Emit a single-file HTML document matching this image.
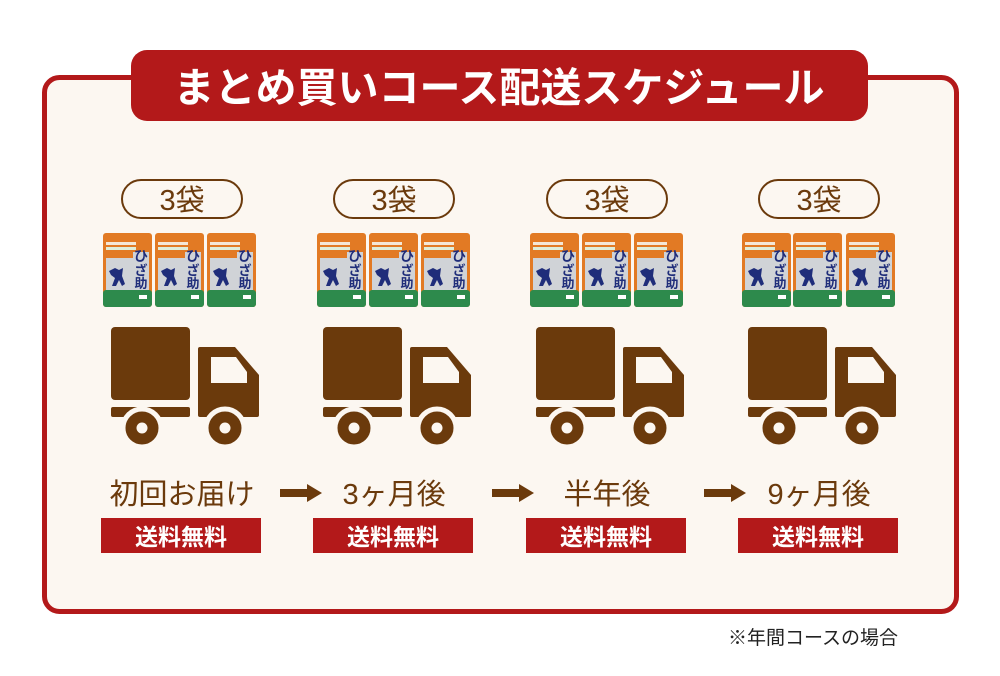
<!DOCTYPE html>
<html><head><meta charset="utf-8"><style>
html,body{margin:0;padding:0;background:#fff;}
svg{display:block;}
text{font-family:"Liberation Sans","Noto Sans CJK JP",sans-serif;}
</style></head><body>
<svg width="1000" height="676" viewBox="0 0 1000 676" xmlns="http://www.w3.org/2000/svg">
<defs>
<g id="pkg">
  <rect x="0" y="0" width="49" height="74" rx="3" fill="#e27a24"/>
  <rect x="3" y="9" width="30" height="3" fill="#f4e7d6"/>
  <rect x="3" y="14" width="30" height="3" fill="#dfeeda"/>
  <rect x="3" y="19" width="43" height="38" fill="#d0d3d7"/>
  <rect x="3" y="19" width="27" height="6" fill="#e27a24"/>
  <path d="M6 38 l6 -3 l4 2 l4 -2 l-1 8 l3 8 l-3 2 l-3 -6 l-3 6 l-4 0 l3 -8 l-4 -3z" fill="#1f2d7a"/>
  <text x="38" y="28" font-size="14" font-weight="700" fill="#1f2d7a" text-anchor="middle">ひ</text>
  <text x="38" y="42" font-size="13" font-weight="700" fill="#1f2d7a" text-anchor="middle">ざ</text>
  <text x="38" y="55" font-size="13" font-weight="700" fill="#1f2d7a" text-anchor="middle">助</text>
  <rect x="0" y="57" width="49" height="17" rx="3" fill="#2d8a4c"/>
  <rect x="36" y="62" width="8" height="4" fill="#fff"/>
</g>
<g id="truck" fill="#6b3a0c">
  <rect x="-71" y="327" width="79" height="73" rx="4"/>
  <rect x="-71" y="407" width="79" height="10" rx="2"/>
  <path d="M18 347 H53 L77 375 V415 Q77 417 75 417 H18 Q16 417 16 415 V349 Q16 347 18 347 Z"/>
  <path d="M29 357 H54 L65 372 V383 H29 Z" fill="#fcf7f1"/>
  <circle cx="-40" cy="428" r="19" fill="#6b3a0c" stroke="#fcf7f1" stroke-width="5"/>
  <circle cx="-40" cy="428" r="5.5" fill="#fcf7f1"/>
  <circle cx="43" cy="428" r="19" fill="#6b3a0c" stroke="#fcf7f1" stroke-width="5"/>
  <circle cx="43" cy="428" r="5.5" fill="#fcf7f1"/>
</g>
<g id="arrow" fill="#6b3a0c">
  <rect x="0" y="489" width="28" height="8"/>
  <path d="M27 484 L42 493 L27 502 Z"/>
</g>
</defs>
<rect x="44.5" y="77.5" width="912" height="534" rx="15" fill="#fcf7f1" stroke="#b3191a" stroke-width="5"/>
<rect x="131" y="50" width="737" height="71" rx="16" fill="#b3191a"/>
<text x="499" y="102" font-size="41" font-weight="700" fill="#fff" text-anchor="middle">まとめ買いコース配送スケジュール</text>

<g transform="translate(182,0)">
  <rect x="-60" y="180" width="120" height="38" rx="19" fill="#fcf7f1" stroke="#6b3a0c" stroke-width="2"/>
  <text x="0" y="210" font-size="29" fill="#6b3a0c" text-anchor="middle">3袋</text>
  <use href="#pkg" x="-79" y="233"/><use href="#pkg" x="-27" y="233"/><use href="#pkg" x="25" y="233"/>
  <use href="#truck"/>
  <text x="0" y="504" font-size="29" fill="#6b3a0c" text-anchor="middle">初回お届け</text>
  <rect x="-81" y="518" width="160" height="35" fill="#b3191a"/>
  <text x="-1" y="545" font-size="23" font-weight="700" fill="#fff" text-anchor="middle">送料無料</text>
</g>
<g transform="translate(394,0)">
  <rect x="-60" y="180" width="120" height="38" rx="19" fill="#fcf7f1" stroke="#6b3a0c" stroke-width="2"/>
  <text x="0" y="210" font-size="29" fill="#6b3a0c" text-anchor="middle">3袋</text>
  <use href="#pkg" x="-77" y="233"/><use href="#pkg" x="-25" y="233"/><use href="#pkg" x="27" y="233"/>
  <use href="#truck"/>
  <text x="0" y="504" font-size="29" fill="#6b3a0c" text-anchor="middle">3ヶ月後</text>
  <rect x="-81" y="518" width="160" height="35" fill="#b3191a"/>
  <text x="-1" y="545" font-size="23" font-weight="700" fill="#fff" text-anchor="middle">送料無料</text>
</g>
<g transform="translate(607,0)">
  <rect x="-60" y="180" width="120" height="38" rx="19" fill="#fcf7f1" stroke="#6b3a0c" stroke-width="2"/>
  <text x="0" y="210" font-size="29" fill="#6b3a0c" text-anchor="middle">3袋</text>
  <use href="#pkg" x="-77" y="233"/><use href="#pkg" x="-25" y="233"/><use href="#pkg" x="27" y="233"/>
  <use href="#truck"/>
  <text x="0" y="504" font-size="29" fill="#6b3a0c" text-anchor="middle">半年後</text>
  <rect x="-81" y="518" width="160" height="35" fill="#b3191a"/>
  <text x="-1" y="545" font-size="23" font-weight="700" fill="#fff" text-anchor="middle">送料無料</text>
</g>
<g transform="translate(819,0)">
  <rect x="-60" y="180" width="120" height="38" rx="19" fill="#fcf7f1" stroke="#6b3a0c" stroke-width="2"/>
  <text x="0" y="210" font-size="29" fill="#6b3a0c" text-anchor="middle">3袋</text>
  <use href="#pkg" x="-77" y="233"/><use href="#pkg" x="-26" y="233"/><use href="#pkg" x="27" y="233"/>
  <use href="#truck"/>
  <text x="0" y="504" font-size="29" fill="#6b3a0c" text-anchor="middle">9ヶ月後</text>
  <rect x="-81" y="518" width="160" height="35" fill="#b3191a"/>
  <text x="-1" y="545" font-size="23" font-weight="700" fill="#fff" text-anchor="middle">送料無料</text>
</g>
<use href="#arrow" x="280"/>
<use href="#arrow" x="492"/>
<use href="#arrow" x="704"/>
<text x="898" y="644" font-size="19" fill="#222" text-anchor="end">※年間コースの場合</text>
</svg>
</body></html>
